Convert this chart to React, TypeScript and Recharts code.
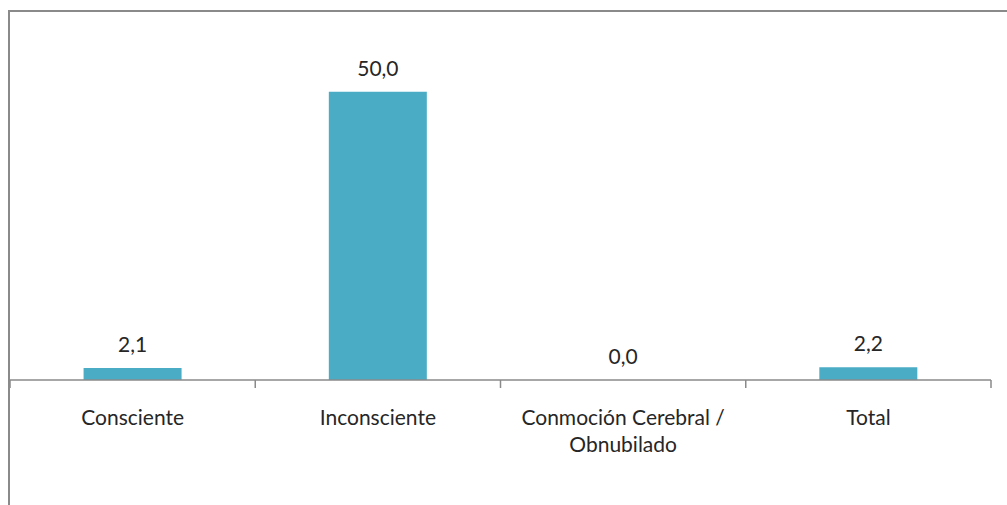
import React from "react";
import { ComposedChart, Bar, Line, XAxis, YAxis, LabelList } from "recharts";

const categories = [
  "Consciente",
  "Inconsciente",
  "Conmoción Cerebral / Obnubilado",
  "Total",
];
const values = [2.1, 50.0, 0.0, 2.2];
const edgeTicks = [0, 1, 2, 3, 4];

const data = categories.map((name, i) => ({ name, value: values[i], pos: i }));

const FONT = "Lato, 'Noto Sans', sans-serif";
const TEXT_COLOR = "#262626";
const GRAY = "#8a8a8a";

// greedy word wrap, roughly the width of one category band
function wrapLabel(label: string, maxChars: number) {
  const words = label.split(" ");
  const lines: string[] = [];
  let cur = "";
  words.forEach((w) => {
    const next = cur ? cur + " " + w : w;
    if (next.length > maxChars && cur) {
      lines.push(cur);
      cur = w;
    } else {
      cur = next;
    }
  });
  if (cur) lines.push(cur);
  return lines;
}

function CategoryTick(props: any) {
  const { x, y, payload } = props;
  const lines = wrapLabel(String(payload.value), 22);
  return (
    <text
      x={x}
      y={y + 36}
      textAnchor="middle"
      fontFamily={FONT}
      fontSize={21}
      fill={TEXT_COLOR}
    >
      {lines.map((ln, i) => (
        <tspan key={i} x={x} dy={i === 0 ? 0 : 27}>
          {ln}
        </tspan>
      ))}
    </text>
  );
}

const EmptyTick = () => <g />;

export default function App() {
  return (
    <div
      style={{
        position: "fixed",
        left: 0,
        top: 0,
        width: 1007,
        height: 505,
        overflow: "hidden",
        background: "#fff",
      }}
    >
      <div
        style={{
          position: "absolute",
          left: 8,
          top: 10,
          width: 1100,
          height: 600,
          borderLeft: `2px solid ${GRAY}`,
          borderTop: `2px solid ${GRAY}`,
        }}
      >
        <ComposedChart
          width={1000}
          height={495}
          data={data}
          margin={{ top: 22, right: 19, bottom: 26, left: 0 }}
          barCategoryGap="30%"
        >
          <YAxis hide domain={[0, 60]} />
          <XAxis
            xAxisId="b"
            dataKey="name"
            tickLine={false}
            tickSize={8}
            tickMargin={0}
            interval={0}
            axisLine={false}
            tick={<CategoryTick />}
            height={100}
          />
          <XAxis
            xAxisId="a"
            type="number"
            scale="linear"
            dataKey="pos"
            domain={[0, 4]}
            ticks={edgeTicks}
            interval={0}
            height={1}
            tick={<EmptyTick />}
            tickSize={8}
            tickLine={{ stroke: GRAY, strokeWidth: 1.5 }}
            axisLine={{ stroke: GRAY, strokeWidth: 1.5 }}
            allowDataOverflow
          />
          <Bar
            xAxisId="b"
            dataKey="value"
            fill="#4BACC6"
            isAnimationActive={false}
          />
          <Line
            xAxisId="b"
            dataKey="value"
            stroke="none"
            dot={false}
            activeDot={false}
            isAnimationActive={false}
          >
            <LabelList
              dataKey="value"
              position="top"
              offset={16}
              formatter={(v: any) => Number(v).toFixed(1).replace(".", ",")}
              style={{ fontFamily: FONT, fontSize: 21, fill: TEXT_COLOR }}
            />
          </Line>
        </ComposedChart>
      </div>
    </div>
  );
}
